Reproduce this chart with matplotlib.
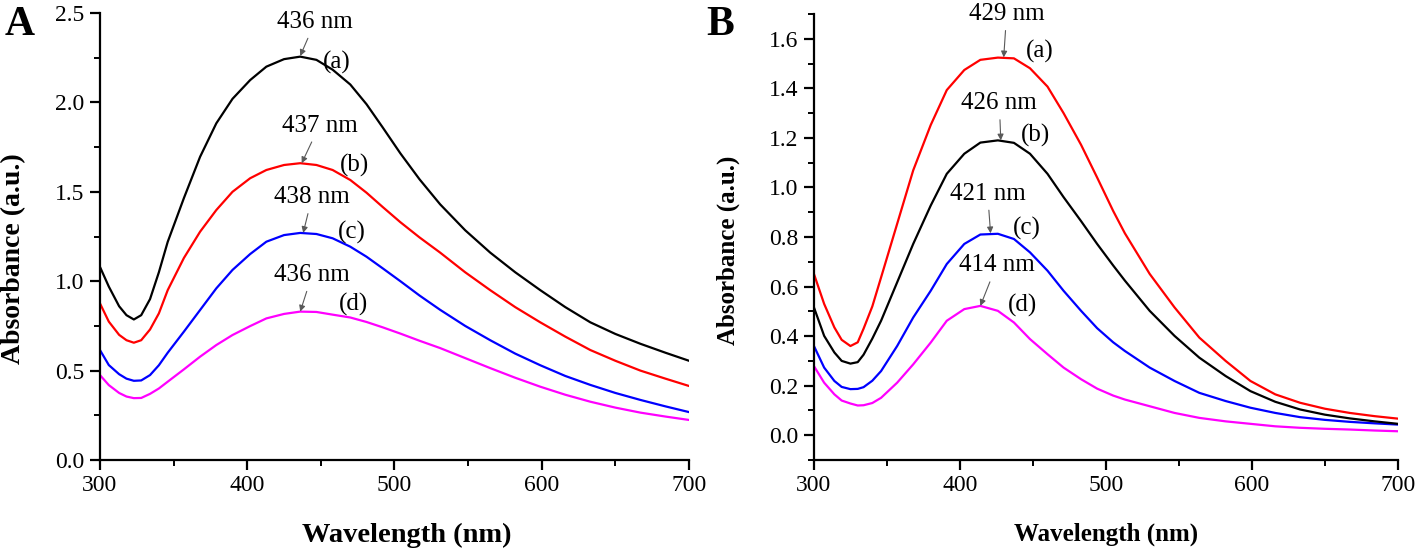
import matplotlib
matplotlib.use("Agg")
import matplotlib.pyplot as plt
from matplotlib.ticker import MultipleLocator, FormatStrFormatter

plt.rcParams["font.family"] = ["Liberation Serif", "DejaVu Serif"]

# ---- panel A data ----
wl_a = [300, 306, 313, 318, 323, 328, 334, 340, 346, 357, 368, 379, 390, 402, 413, 425, 436,
        447, 458, 470, 481, 492, 504, 517, 531, 548, 565, 582, 599, 616, 633, 650, 667, 684, 700]
abs_a = {
    "a": [1.08, 0.97, 0.86, 0.81, 0.786, 0.81, 0.90, 1.05, 1.22, 1.465, 1.696, 1.883, 2.02, 2.125, 2.20, 2.242, 2.256,
          2.238, 2.183, 2.10, 1.99, 1.86, 1.715, 1.57, 1.43, 1.285, 1.16, 1.05, 0.95, 0.855, 0.77, 0.705, 0.65, 0.60, 0.555],
    "b": [0.876, 0.774, 0.70, 0.67, 0.656, 0.67, 0.73, 0.82, 0.95, 1.13, 1.277, 1.398, 1.50, 1.576, 1.622, 1.65, 1.66,
          1.65, 1.622, 1.566, 1.495, 1.415, 1.33, 1.245, 1.16, 1.05, 0.95, 0.855, 0.77, 0.69, 0.615, 0.555, 0.50, 0.455, 0.414],
    "c": [0.615, 0.531, 0.48, 0.455, 0.443, 0.445, 0.475, 0.53, 0.60, 0.718, 0.839, 0.96, 1.063, 1.152, 1.221, 1.258, 1.27,
          1.264, 1.24, 1.193, 1.137, 1.072, 1.00, 0.92, 0.84, 0.75, 0.67, 0.595, 0.53, 0.47, 0.42, 0.375, 0.336, 0.30, 0.268],
    "d": [0.475, 0.419, 0.375, 0.355, 0.346, 0.347, 0.37, 0.40, 0.438, 0.507, 0.578, 0.643, 0.699, 0.749, 0.792, 0.817, 0.83,
          0.828, 0.813, 0.797, 0.772, 0.742, 0.707, 0.667, 0.626, 0.57, 0.514, 0.46, 0.41, 0.365, 0.326, 0.293, 0.265, 0.243, 0.224],
}
colors_a = {"a": "black", "b": "#ff0000", "c": "#0000ff", "d": "#ff00ff"}
peaks_a = {"a": (436, 2.26), "b": (437, 1.66), "c": (438, 1.27), "d": (436, 0.83)}

# ---- panel B data ----
wl_b = [300, 307, 314, 319, 325, 330, 334, 340, 346, 357, 368, 380, 391, 403, 414, 426, 437,
        448, 460, 471, 483, 494, 505, 513, 530, 547, 564, 582, 599, 616, 633, 650, 667, 684, 700]
abs_b = {
    "a": [0.651, 0.53, 0.435, 0.385, 0.36, 0.375, 0.43, 0.52, 0.637, 0.853, 1.069, 1.252, 1.393, 1.474, 1.515, 1.524, 1.521,
          1.481, 1.407, 1.30, 1.172, 1.04, 0.905, 0.815, 0.651, 0.516, 0.394, 0.30, 0.219, 0.165, 0.131, 0.107, 0.09, 0.077, 0.067],
    "b": [0.516, 0.401, 0.334, 0.30, 0.289, 0.295, 0.325, 0.39, 0.462, 0.617, 0.772, 0.927, 1.055, 1.136, 1.181, 1.19, 1.18,
          1.136, 1.055, 0.961, 0.864, 0.772, 0.685, 0.624, 0.502, 0.401, 0.313, 0.239, 0.178, 0.135, 0.104, 0.083, 0.068, 0.056, 0.046],
    "c": [0.36, 0.273, 0.219, 0.195, 0.186, 0.187, 0.194, 0.22, 0.259, 0.36, 0.475, 0.583, 0.691, 0.772, 0.81, 0.813, 0.792,
          0.738, 0.664, 0.583, 0.502, 0.432, 0.375, 0.34, 0.273, 0.219, 0.171, 0.138, 0.111, 0.09, 0.073, 0.062, 0.054, 0.048, 0.043],
    "d": [0.279, 0.212, 0.165, 0.14, 0.128, 0.12, 0.121, 0.13, 0.151, 0.212, 0.286, 0.374, 0.462, 0.509, 0.522, 0.502, 0.455,
          0.388, 0.327, 0.273, 0.226, 0.188, 0.16, 0.144, 0.117, 0.09, 0.07, 0.056, 0.046, 0.036, 0.03, 0.026, 0.023, 0.019, 0.016],
}
colors_b = {"a": "#ff0000", "b": "black", "c": "#0000ff", "d": "#ff00ff"}
peaks_b = {"a": (430, 1.525), "b": (428, 1.19), "c": (421, 0.815), "d": (414, 0.522)}

# label text, text position, letter position (data units)
labels_a = {"a": ("436 nm", (446, 2.45), (461, 2.225)),
            "b": ("437 nm", (449, 1.87), (473, 1.65)),
            "c": ("438 nm", (444, 1.47), (471, 1.275)),
            "d": ("436 nm", (444, 1.035), (472, 0.87))}
labels_b = {"a": ("429 nm", (432, 1.70), (455, 1.547)),
            "b": ("426 nm", (427, 1.34), (452, 1.21)),
            "c": ("421 nm", (419, 0.975), (446, 0.834)),
            "d": ("414 nm", (425, 0.685), (443, 0.522))}

fig = plt.figure(figsize=(14.18, 5.49), dpi=100)
ax_a = fig.add_axes([0.0705, 0.1621, 0.4154, 0.8142])
ax_b = fig.add_axes([0.574, 0.1621, 0.4118, 0.8124])


def style_axes(ax, ylim, ymajor, yminor, xlab_size, ylab_size, xlab_pos, ylab_pos):
    ax.set_xlim(300, 700)
    ax.set_ylim(*ylim)
    ax.xaxis.set_major_locator(MultipleLocator(100))
    ax.xaxis.set_minor_locator(MultipleLocator(50))
    ax.yaxis.set_major_locator(MultipleLocator(ymajor))
    ax.yaxis.set_minor_locator(MultipleLocator(yminor))
    ax.yaxis.set_major_formatter(FormatStrFormatter("%.1f"))
    for s in ["top", "right"]:
        ax.spines[s].set_visible(False)
    for s in ["left", "bottom"]:
        ax.spines[s].set_linewidth(1.6)
    ax.tick_params(which="major", direction="out", length=7, width=1.6, labelsize=17, pad=4)
    ax.tick_params(which="minor", direction="out", length=4, width=1.4)
    ax.set_xlabel("Wavelength (nm)", fontsize=xlab_size, fontweight="bold")
    ax.set_ylabel("Absorbance (a.u.)", fontsize=ylab_size, fontweight="bold")
    ax.xaxis.set_label_coords(*xlab_pos)
    ax.yaxis.set_label_coords(*ylab_pos)


def draw(ax, wl, data, colors, peaks, labels):
    for k in ["d", "c", "b", "a"]:
        ax.plot(wl, data[k], color=colors[k], lw=1.6)
    for k in ["a", "b", "c", "d"]:
        txt, txy, lxy = labels[k]
        ax.annotate(txt, xy=peaks[k], xytext=txy, ha="center", va="center", fontsize=18,
                    arrowprops=dict(arrowstyle="-|>", color="0.35", lw=0.8,
                                    mutation_scale=9, shrinkA=2, shrinkB=0))
        ax.text(lxy[0], lxy[1], "(" + k + ")", ha="center", va="center", fontsize=18)


draw(ax_a, wl_a, abs_a, colors_a, peaks_a, labels_a)
style_axes(ax_a, (0, 2.5), 0.5, 0.25, 20.5, 20, (0.52, -0.141), (-0.125, 0.45))

draw(ax_b, wl_b, abs_b, colors_b, peaks_b, labels_b)
style_axes(ax_b, (-0.1, 1.7), 0.2, 0.1, 18, 18, (0.50, -0.141), (-0.127, 0.471))

fig.text(0.003, 0.955, "A", fontsize=30, fontweight="bold", va="center", ha="left")
fig.text(0.498, 0.955, "B", fontsize=30, fontweight="bold", va="center", ha="left")

fig.savefig("out.png", dpi=100)
